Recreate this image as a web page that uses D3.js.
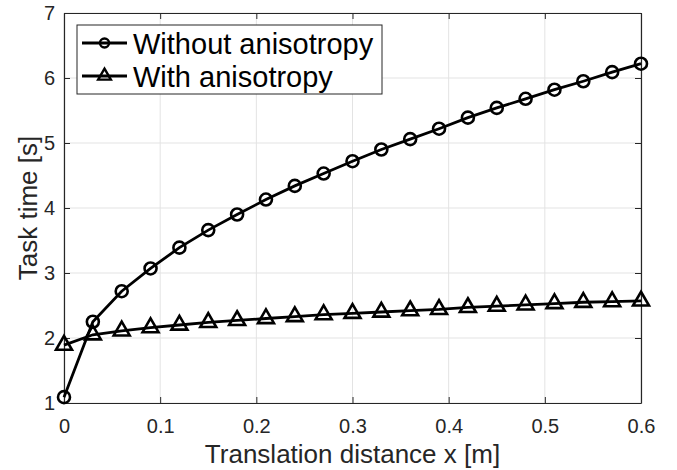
<!DOCTYPE html>
<html>
<head>
<meta charset="utf-8">
<script src="https://cdn.jsdelivr.net/npm/d3@7"></script>
<style>
  body { margin: 0; background: #fff; }
  svg { font-family: "Liberation Sans", Arial, sans-serif; }
  .grid line { stroke: #e3e3e3; stroke-width: 1; }
  .tick text { fill: #262626; font-size: 20px; font-family: "Liberation Sans", Arial, sans-serif; }
  .axis path, .axis line { stroke: #262626; }
</style>
</head>
<body>
<div class="chart"></div>
<script>
const xValues = [0, 0.03, 0.06, 0.09, 0.12, 0.15, 0.18, 0.21, 0.24, 0.27, 0.30,
  0.33, 0.36, 0.39, 0.42, 0.45, 0.48, 0.51, 0.54, 0.57, 0.60];
const withoutAniso = [1.09, 2.25, 2.72, 3.07, 3.39, 3.66, 3.90, 4.13, 4.34, 4.53, 4.72,
  4.90, 5.06, 5.22, 5.39, 5.54, 5.68, 5.82, 5.95, 6.09, 6.22];
const withAniso = [1.89, 2.05, 2.11, 2.16, 2.20, 2.24, 2.27, 2.30, 2.33, 2.36, 2.38,
  2.40, 2.42, 2.44, 2.47, 2.49, 2.51, 2.53, 2.55, 2.56, 2.57];
const xTicks = [0, 0.1, 0.2, 0.3, 0.4, 0.5, 0.6];
const yTicks = [1, 2, 3, 4, 5, 6, 7];
const seriesNames = ["Without anisotropy", "With anisotropy"];

const margin = { top: 13, bottom: 67, left: 64, right: 36 };
const W = 677, H = 470;
const w = W - margin.left - margin.right;
const h = H - margin.top - margin.bottom;

const svg = d3.select(".chart").append("svg")
  .attr("width", W)
  .attr("height", H)
  .append("g")
  .attr("transform", "translate(" + margin.left + "," + margin.top + ")");

const xScale = d3.scaleLinear().domain([0, 0.6]).range([0, w]);
const yScale = d3.scaleLinear().domain([1, 7]).range([h, 0]);

// grid
svg.append("g").attr("class", "grid")
  .selectAll("line.v").data(xTicks).enter().append("line")
  .attr("x1", d => xScale(d)).attr("x2", d => xScale(d))
  .attr("y1", 0).attr("y2", h);
svg.append("g").attr("class", "grid")
  .selectAll("line.h").data(yTicks).enter().append("line")
  .attr("y1", d => yScale(d)).attr("y2", d => yScale(d))
  .attr("x1", 0).attr("x2", w);

// axes (ticks inward, box all round)
svg.append("g")
  .attr("class", "x axis")
  .attr("transform", "translate(0," + h + ")")
  .call(d3.axisBottom(xScale).tickValues(xTicks).tickSizeInner(-6).tickSizeOuter(0).tickPadding(16)
    .tickFormat(d => d === 0 ? "0" : d3.format(".1f")(d)));
svg.append("g")
  .attr("class", "y axis")
  .call(d3.axisLeft(yScale).tickValues(yTicks).tickSizeInner(-6).tickSizeOuter(0).tickPadding(9)
    .tickFormat(d3.format("d")));
svg.append("g")
  .attr("class", "x axis")
  .call(d3.axisTop(xScale).tickValues(xTicks).tickSizeInner(-6).tickSizeOuter(0).tickFormat(""));
svg.append("g")
  .attr("class", "y axis")
  .attr("transform", "translate(" + w + ",0)")
  .call(d3.axisRight(yScale).tickValues(yTicks).tickSizeInner(-6).tickSizeOuter(0).tickFormat(""));
svg.selectAll(".axis path").attr("stroke-width", 1.2);

const line = d3.line()
  .x((d, i) => xScale(xValues[i]))
  .y(d => yScale(d));

const triangle = d3.symbol().type(d3.symbolTriangle).size(110);

// without anisotropy
svg.append("path").datum(withoutAniso)
  .attr("d", line).attr("fill", "none").attr("stroke", "#000").attr("stroke-width", 2.8);
svg.selectAll(".circ").data(withoutAniso).enter().append("circle")
  .attr("class", "circ")
  .attr("cx", (d, i) => xScale(xValues[i]))
  .attr("cy", d => yScale(d))
  .attr("r", 6)
  .attr("fill", "none").attr("stroke", "#000").attr("stroke-width", 2.6);

// with anisotropy
svg.append("path").datum(withAniso)
  .attr("d", line).attr("fill", "none").attr("stroke", "#000").attr("stroke-width", 2.8);
svg.selectAll(".tri").data(withAniso).enter().append("path")
  .attr("class", "tri")
  .attr("d", triangle)
  .attr("transform", (d, i) => "translate(" + xScale(xValues[i]) + "," + yScale(d) + ")")
  .attr("fill", "none").attr("stroke", "#000").attr("stroke-width", 2.6);

// axis labels
svg.append("text")
  .attr("x", w / 2).attr("y", h + 60)
  .attr("text-anchor", "middle")
  .attr("fill", "#262626").attr("font-size", 26)
  .text("Translation distance x [m]");
svg.append("text")
  .attr("transform", "translate(" + (-27) + "," + (h / 2) + ") rotate(-90)")
  .attr("text-anchor", "middle")
  .attr("fill", "#262626").attr("font-size", 26)
  .text("Task time [s]");

// legend
const legend = svg.append("g").attr("transform", "translate(13,12)");
legend.append("rect")
  .attr("width", 305).attr("height", 69)
  .attr("fill", "#fff").attr("stroke", "#262626").attr("stroke-width", 1);
seriesNames.forEach(function(name, i) {
  const cy = 18 + i * 33;
  legend.append("line")
    .attr("x1", 5).attr("x2", 50).attr("y1", cy).attr("y2", cy)
    .attr("stroke", "#000").attr("stroke-width", 2.8);
  if (i === 0) {
    legend.append("circle").attr("cx", 27.5).attr("cy", cy).attr("r", 4.5)
      .attr("fill", "none").attr("stroke", "#000").attr("stroke-width", 2.4);
  } else {
    legend.append("path").attr("d", d3.symbol().type(d3.symbolTriangle).size(70))
      .attr("transform", "translate(27.5," + cy + ")")
      .attr("fill", "none").attr("stroke", "#000").attr("stroke-width", 2.4);
  }
  legend.append("text")
    .attr("x", 56).attr("y", cy + 11)
    .attr("font-size", 29).attr("fill", "#000")
    .text(name);
});
</script>
</body>
</html>
